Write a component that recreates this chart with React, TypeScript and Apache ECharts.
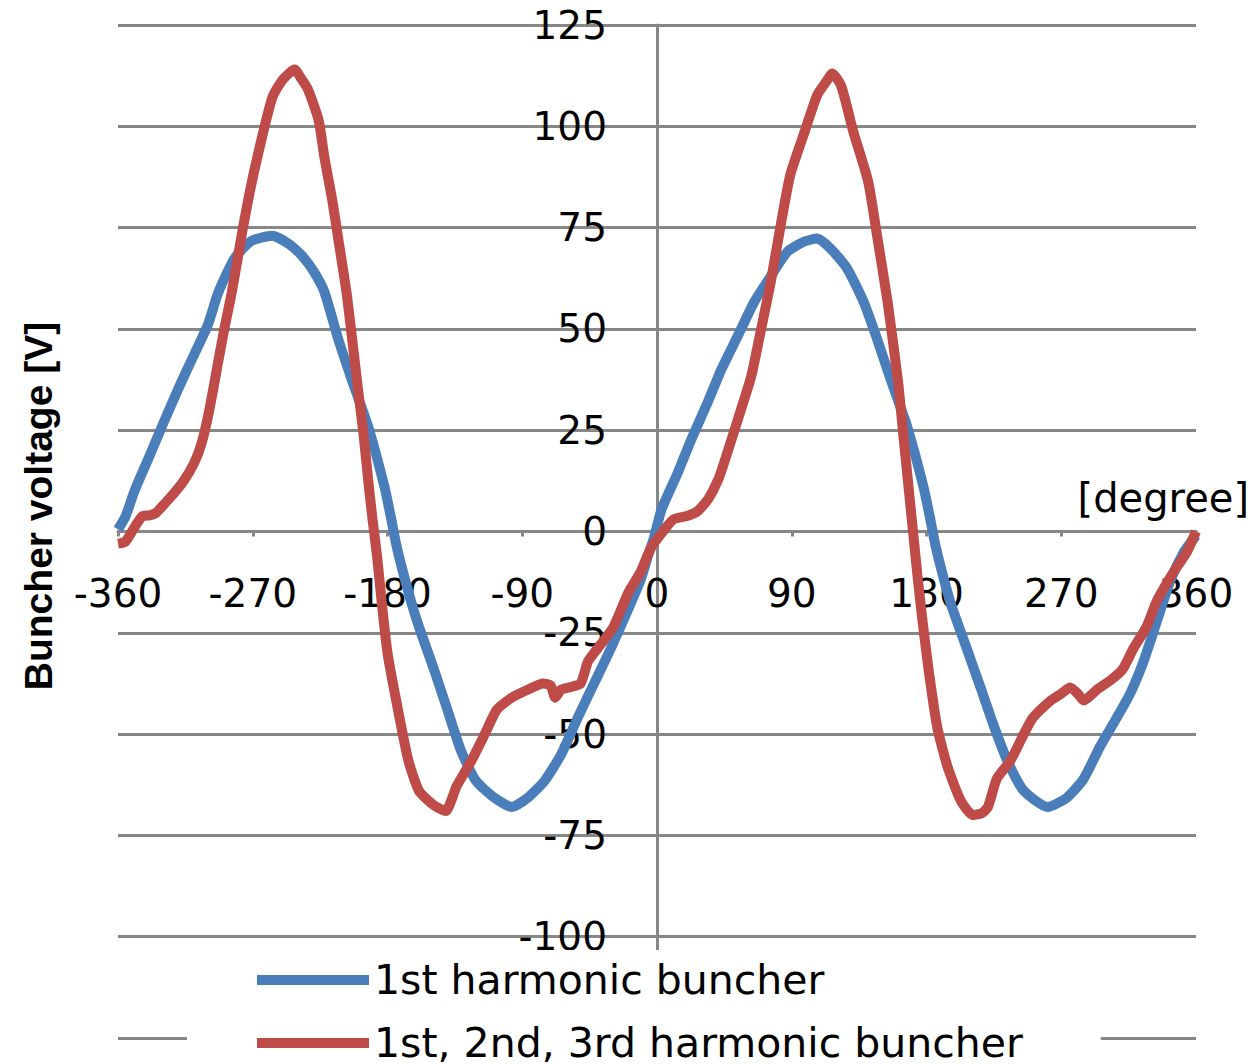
import React, { useEffect, useRef } from "react";
import * as echarts from "echarts";

// Measured buncher voltage [V] versus phase [degree]
const firstHarmonicCurve: [number, number][] = [
  [-360, 0.5], [-355, 3.7], [-349, 10], [-339, 18.6], [-330, 26.5], [-320, 35], [-310, 43], [-300, 51],
  [-293, 59], [-282, 67.5], [-271, 71.7], [-257, 73], [-246, 71], [-237, 68], [-229, 64], [-222, 59],
  [-213, 47.6], [-204, 37.6], [-193, 26], [-182, 11], [-178, 4], [-174, -3.5], [-170, -9.5], [-164, -17.6],
  [-159, -23.5], [-149, -34], [-140, -44], [-131, -54], [-121, -61.5], [-109, -65.6], [-97, -68], [-86, -65.6],
  [-75, -61.5], [-64, -55], [-53, -46], [-42, -37.5], [-31, -29], [-19, -19], [-11, -12], [-6, -6],
  [-2, -1.5], [3, 5.4], [14, 14.6], [23, 22.8], [34, 32], [43, 40], [54, 48.3], [65, 56.7],
  [76, 63], [87, 69], [98, 71.5], [107, 72.3], [116, 69.8], [127, 64.9], [138, 56.7], [147, 47.5],
  [156, 37.6], [167, 26], [178, 11], [182, 4], [186, -3.5], [190, -9.5], [196, -17.6], [207, -29],
  [216, -38.4], [225, -48], [234, -56.6], [245, -64], [261, -68], [274, -65.6], [285, -61], [296, -53],
  [307, -46], [316, -40], [325, -32], [334, -22], [343, -12], [352, -5], [360, -1],
];

const multiHarmonicCurve: [number, number][] = [
  [-360, -3], [-355, -2.5], [-349, 1], [-344, 3.7], [-339, 4], [-335, 4.5], [-331, 6], [-326, 8],
  [-317, 12], [-309, 17], [-304, 22], [-299, 30], [-294, 40], [-289, 50], [-284, 59], [-277, 74],
  [-271, 85.6], [-264, 97], [-257, 107], [-251, 111], [-246, 113], [-242, 114], [-238, 112], [-233, 109],
  [-226, 101.5], [-222, 92], [-217, 82], [-213, 72.5], [-207, 58], [-200, 36], [-196, 24], [-193, 13],
  [-190, 3], [-187, -6], [-184, -17], [-180, -30], [-173, -44], [-166, -56.6], [-159, -64], [-151, -67],
  [-147, -68], [-141, -69], [-137, -66], [-134, -63], [-124, -56.6], [-115, -50], [-107, -44], [-97, -41],
  [-86, -39], [-76, -37.5], [-71, -38], [-68, -41], [-64, -39], [-59, -38.5], [-51, -37.5], [-46, -32],
  [-37, -27.6], [-29, -23.5], [-19, -15], [-11, -10], [-4, -4], [4, 0], [11, 3], [20, 3.8],
  [27, 5], [34, 7.9], [41, 12.9], [47, 19.5], [56, 30], [63, 38.4], [69, 49], [76, 61.6],
  [83, 76.4], [89, 88], [98, 98], [107, 107.7], [113, 111], [117, 113], [123, 110], [131, 98.8],
  [141, 86.4], [147, 73], [154, 56.7], [161, 37], [165, 22], [168, 11], [171, 0], [174, -11],
  [177, -21], [181, -33], [187, -48], [194, -58], [203, -66.5], [211, -70], [217, -69.5], [221, -68],
  [227, -61], [236, -56.6], [245, -50], [251, -46], [263, -41.7], [270, -40], [276, -38.5], [281, -40],
  [285, -41.7], [294, -39], [303, -36.7], [311, -34], [318, -29], [327, -23.5], [334, -17], [345, -10],
  [354, -5], [360, 0],
];

const seriesNames = ["1st harmonic buncher", "1st, 2nd, 3rd harmonic buncher"];
const seriesColors = ["#4A7EBB", "#BE4B48"];
const xTicks = { min: -360, max: 360, step: 90 };
const yTicks = { min: -125, max: 125, step: 25 };
const yTitle = "Buncher voltage [V]";
const xUnit = "[degree]";

const GRID = "#878787";
const FONT = "DejaVu Sans";

const W = 1251;
const H = 1064;
const PLOT = { left: 118, right: 1196, top: 25, bottom: 1038 };

export default function App() {
  const ref = useRef<HTMLDivElement>(null);
  useEffect(() => {
    if (!ref.current) return;
    const chart = echarts.init(ref.current, undefined, { renderer: "svg" });
    const plotW = PLOT.right - PLOT.left;
    const plotH = PLOT.bottom - PLOT.top;
    // pixel position of the zero lines inside the plot
    const zeroX = PLOT.left + ((0 - xTicks.min) / (xTicks.max - xTicks.min)) * plotW;
    const zeroY = PLOT.top + ((yTicks.max - 0) / (yTicks.max - yTicks.min)) * plotH;
    chart.setOption({
      animation: false,
      backgroundColor: "#fff",
      grid: {
        left: PLOT.left,
        right: W - PLOT.right,
        top: PLOT.top,
        bottom: H - PLOT.bottom,
        containLabel: false,
        outerBoundsMode: "none",
      },
      xAxis: {
        type: "value",
        position: "bottom",
        offset: -(PLOT.bottom - zeroY),
        min: xTicks.min,
        max: xTicks.max,
        interval: xTicks.step,
        axisLine: { show: true, onZero: false, lineStyle: { color: GRID, width: 3 } },
        axisTick: { show: true, length: 5, lineStyle: { color: GRID, width: 3 } },
        splitLine: { show: false },
        axisLabel: {
          show: true,
          showMinLabel: true,
          showMaxLabel: true,
          hideOverlap: false,
          margin: 42,
          color: "#000",
          fontSize: 39,
          fontFamily: FONT,
        },
      },
      yAxis: {
        type: "value",
        position: "left",
        offset: -(zeroX - PLOT.left),
        min: yTicks.min,
        max: yTicks.max,
        interval: yTicks.step,
        axisLine: { show: true, onZero: false, lineStyle: { color: GRID, width: 3 } },
        axisTick: { show: false },
        splitLine: { show: true, lineStyle: { color: GRID, width: 3 } },
        axisLabel: {
          margin: 50,
          color: "#000",
          fontSize: 39,
          fontFamily: FONT,
          // the lowest label sits under the legend box in the original
          formatter: (v: number) => (v === yTicks.min ? "" : String(v)),
        },
      },
      legend: {
        orient: "vertical",
        left: 187,
        top: 950,
        height: 150,
        padding: [5, 78, 10, 70],
        backgroundColor: "#fff",
        icon: "rect",
        itemWidth: 112,
        itemHeight: 10,
        itemGap: 13,
        textStyle: { fontSize: 41, fontFamily: FONT, color: "#000", lineHeight: 50 },
        data: seriesNames,
      },
      graphic: [
        {
          type: "text",
          x: 38,
          y: 506,
          rotation: Math.PI / 2,
          style: {
            text: yTitle,
            fontSize: 39,
            fontWeight: "bold",
            fontFamily: "Liberation Sans",
            fill: "#000",
            align: "center",
            verticalAlign: "middle",
          },
        },
        {
          type: "text",
          x: 1249,
          y: 498,
          style: {
            text: xUnit,
            fontSize: 40,
            fontFamily: FONT,
            fill: "#000",
            align: "right",
            verticalAlign: "middle",
          },
        },
      ],
      series: [
        {
          name: seriesNames[0],
          type: "line",
          data: firstHarmonicCurve,
          showSymbol: false,
          smooth: 0.2,
          lineStyle: { color: seriesColors[0], width: 10 },
          itemStyle: { color: seriesColors[0] },
        },
        {
          name: seriesNames[1],
          type: "line",
          data: multiHarmonicCurve,
          showSymbol: false,
          smooth: 0.2,
          lineStyle: { color: seriesColors[1], width: 10 },
          itemStyle: { color: seriesColors[1] },
        },
      ],
    });
    return () => chart.dispose();
  }, []);
  return (
    <div
      ref={ref}
      style={{ position: "absolute", left: 0, top: 0, width: W, height: H, background: "#fff" }}
    />
  );
}
